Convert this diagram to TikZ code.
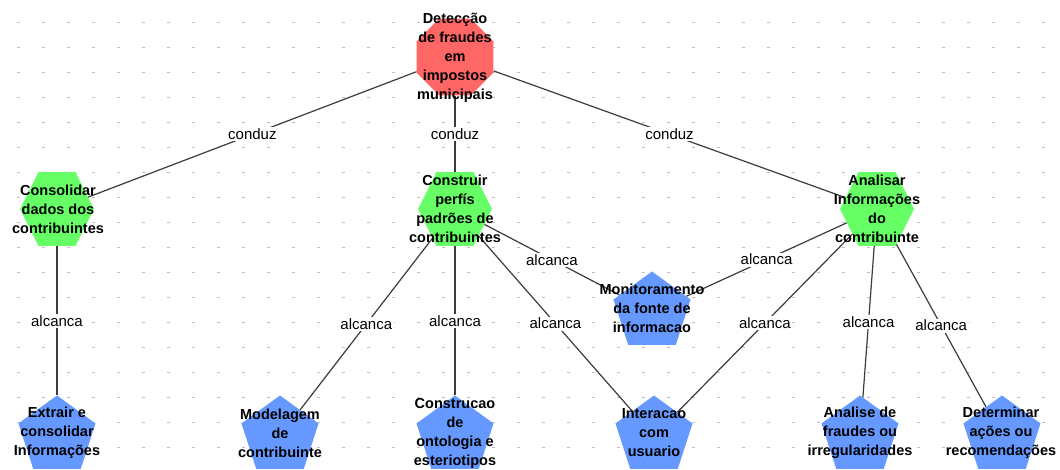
\documentclass[tikz,border=0pt]{standalone}
\usepackage{fontspec}
\setmainfont{Liberation Sans}
\usetikzlibrary{shapes.geometric}
\definecolor{goalred}{RGB}{255,102,102}
\definecolor{taskgreen}{RGB}{102,255,102}
\definecolor{softblue}{RGB}{102,153,255}
\definecolor{linkgray}{RGB}{60,60,60}
\definecolor{dotgray}{RGB}{190,190,190}
\tikzset{
  octnode/.style={regular polygon, regular polygon sides=8, minimum size=83pt, inner sep=0pt, fill=goalred, draw=none},
  hexnode/.style={regular polygon, regular polygon sides=6, minimum size=74pt, inner sep=0pt, yscale=1.15, fill=taskgreen, draw=none},
  pentnode/.style={regular polygon, regular polygon sides=5, minimum size=81pt, inner sep=0pt, fill=softblue, draw=none},
  nodetext/.style={align=center, inner sep=0pt, font=\bfseries\fontsize{14.5}{19}\selectfont},
  lbl/.style={fill=white, inner sep=1.5pt, font=\fontsize{15}{17}\selectfont},
  link/.style={draw=linkgray, line width=1.2pt}
}
\begin{document}
\begin{tikzpicture}[x=1pt, y=-1pt]
\useasboundingbox (0,0) rectangle (1060,470);
\fill[white] (0,0) rectangle (1060,470);
% background dot grid
\foreach \i in {0,...,41} {
  \foreach \j in {0,...,17} {
    \fill[dotgray] ({18+25*\i-1},{22+25*\j}) rectangle ++(2.5,1.2);
  }
}
% shapes
\node[octnode]  (sTop)    at (455,57)  {};
\node[hexnode]  (sCons)   at (57,209)  {};
\node[hexnode]  (sConstr) at (455,209) {};
\node[hexnode]  (sAnal)   at (877,209) {};
\node[pentnode] (sMonit)  at (652,312) {};
\node[pentnode] (sExtr)   at (57,436)  {};
\node[pentnode] (sModel)  at (280,436) {};
\node[pentnode] (sOnto)   at (455,436) {};
\node[pentnode] (sInter)  at (654,436) {};
\node[pentnode] (sFraud)  at (860,436) {};
\node[pentnode] (sDeterm) at (1002,436) {};
% links
\draw[link] (sTop) -- node[lbl] {conduz} (sCons);
\draw[link] (sTop) -- node[lbl] {conduz} (sConstr);
\draw[link] (sTop) -- node[lbl] {conduz} (sAnal);
\draw[link] (sCons) -- node[lbl] {alcanca} (sExtr);
\draw[link] (sConstr) -- node[lbl] {alcanca} (sModel);
\draw[link] (sConstr) -- node[lbl] {alcanca} (sOnto);
\draw[link] (sConstr) -- node[lbl] {alcanca} (sInter);
\draw[link] (sConstr) -- node[lbl] {alcanca} (sMonit);
\draw[link] (sAnal) -- node[lbl] {alcanca} (sMonit);
\draw[link] (sAnal) -- node[lbl] {alcanca} (sInter);
\draw[link] (sAnal) -- node[lbl] {alcanca} (sFraud);
\draw[link] (sAnal) -- node[lbl] {alcanca} (sDeterm);
% texts
\node[nodetext] (tTop)    at (455,58)  {Detecção\\de fraudes\\em\\impostos\\municipais};
\node[nodetext] (tCons)   at (58,209)  {Consolidar\\dados dos\\contribuintes};
\node[nodetext] (tConstr) at (455,209) {Construir\\perfís\\padrões de\\contribuintes};
\node[nodetext] (tAnal)   at (877,209) {Analisar\\Informações\\do\\contribuinte};
\node[nodetext] (tMonit)  at (652,308) {Monitoramento\\da fonte de\\informacao};
\node[nodetext] (tExtr)   at (57,433)  {Extrair e\\consolidar\\Informações};
\node[nodetext] (tModel)  at (280,433) {Modelagem\\de\\contribuinte};
\node[nodetext] (tOnto)   at (455,433) {Construcao\\de\\ontologia e\\esteriotipos};
\node[nodetext] (tInter)  at (654,433) {Interacao\\com\\usuario};
\node[nodetext] (tFraud)  at (860,433) {Analise de\\fraudes ou\\irregularidades};
\node[nodetext] (tDeterm) at (1001,433) {Determinar\\ações ou\\recomendações};
\end{tikzpicture}
\end{document}
